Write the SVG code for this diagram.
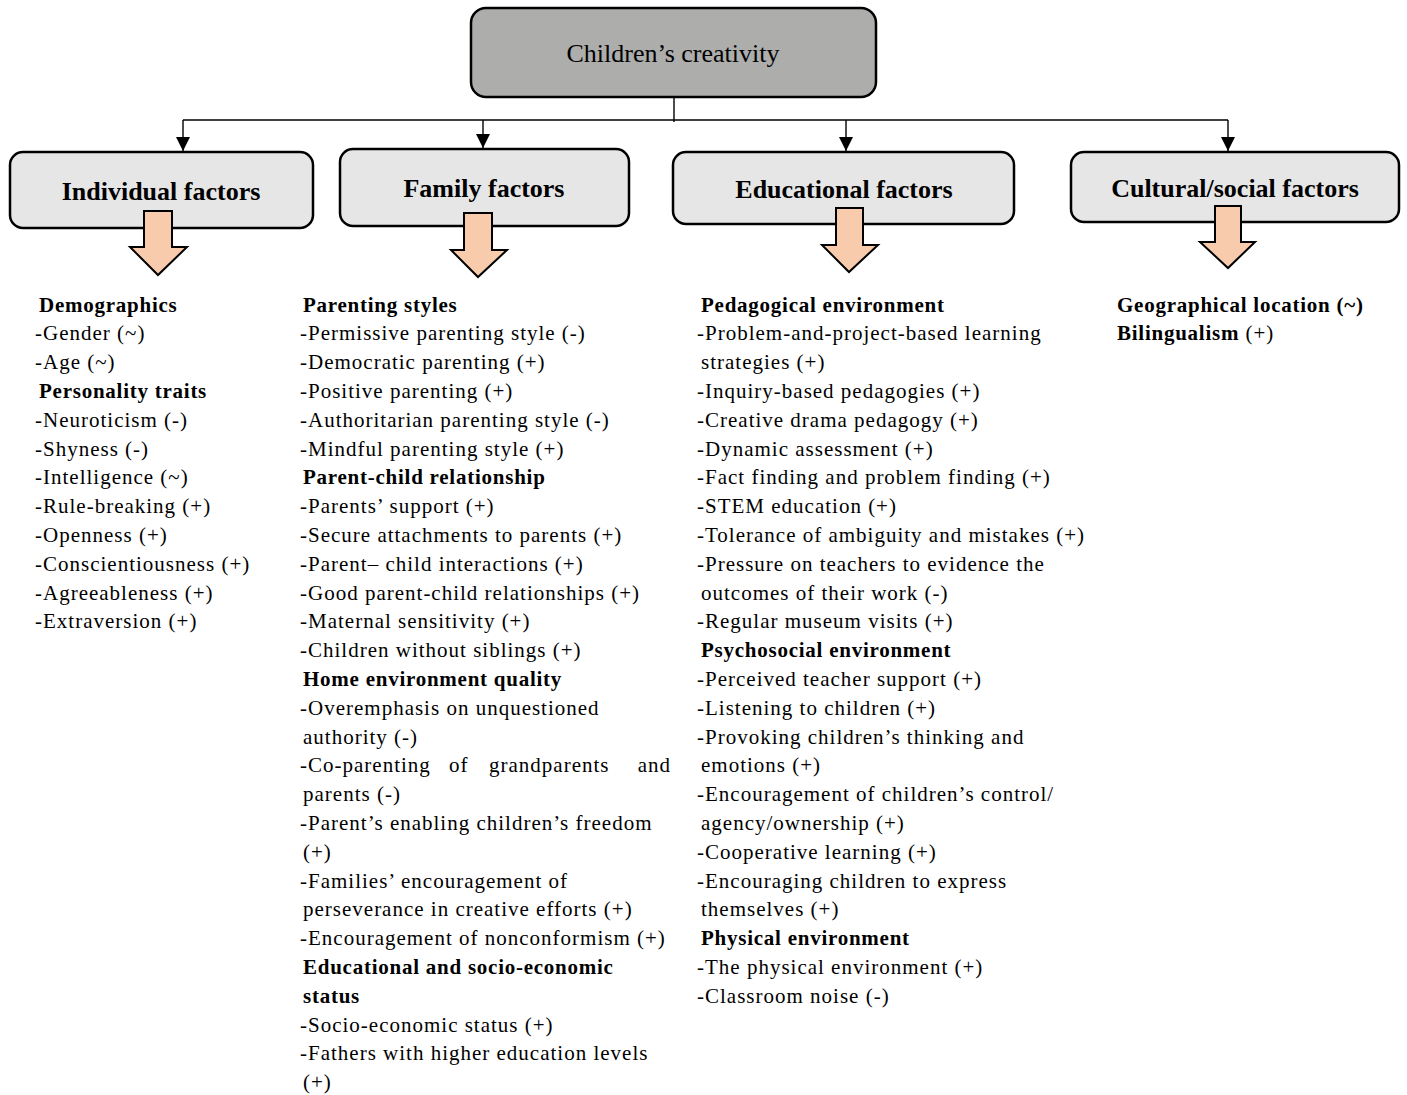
<svg xmlns="http://www.w3.org/2000/svg" width="1407" height="1095" viewBox="0 0 1407 1095">
<style>
.box{stroke:#000;stroke-width:2.5}
.top{fill:#adadab}
.cat{fill:#e6e6e6}
.ba{fill:#f8cbad;stroke:#000;stroke-width:2;stroke-linejoin:miter}
.conn{stroke:#000;stroke-width:1.4;fill:none}
.h1{font-family:"Liberation Serif","Times New Roman",serif;font-size:26px;fill:#000;text-anchor:middle}
.h2{font-family:"Liberation Serif","Times New Roman",serif;font-size:26px;font-weight:bold;fill:#000;text-anchor:middle}
.t{font-family:"Liberation Serif","Times New Roman",serif;font-size:21px;letter-spacing:1px;fill:#000}
.b{font-weight:bold;letter-spacing:0.75px}
</style>
<defs>
<marker id="ah" viewBox="0 0 10 10" refX="10" refY="5" markerWidth="14" markerHeight="14" markerUnits="userSpaceOnUse" orient="auto">
<path d="M0,0 L10,5 L0,10 Z" fill="#000"/>
</marker>
</defs>

<g id="connectors">
<line class="conn" x1="674" y1="93" x2="674" y2="122"/>
<line class="conn" x1="183" y1="120" x2="1228" y2="120"/>
<line class="conn" x1="183" y1="120" x2="183" y2="151" marker-end="url(#ah)"/>
<line class="conn" x1="483" y1="120" x2="483" y2="148" marker-end="url(#ah)"/>
<line class="conn" x1="846" y1="120" x2="846" y2="151" marker-end="url(#ah)"/>
<line class="conn" x1="1228" y1="120" x2="1228" y2="151" marker-end="url(#ah)"/>
</g>

<g id="root">
<rect class="box top" x="471" y="8" width="405" height="89" rx="15"/>
<text class="h1" x="673" y="62">Children’s creativity</text>
</g>

<g id="individual">
<rect class="box cat" x="10" y="152" width="303" height="76" rx="13"/>
<text class="h2" x="161" y="200">Individual factors</text>
<path class="ba" d="M144,211 H172 V247 H187 L158,275 L130,247 H144 Z"/>
<g class="t">
<text class="b" x="39" y="311.5">Demographics</text>
<text x="35" y="340.3">-Gender (~)</text>
<text x="35" y="369.1">-Age (~)</text>
<text class="b" x="39" y="397.9">Personality traits</text>
<text x="35" y="426.7">-Neuroticism (-)</text>
<text x="35" y="455.5">-Shyness (-)</text>
<text x="35" y="484.3">-Intelligence (~)</text>
<text x="35" y="513.1">-Rule-breaking (+)</text>
<text x="35" y="541.9">-Openness (+)</text>
<text x="35" y="570.7">-Conscientiousness (+)</text>
<text x="35" y="599.5">-Agreeableness (+)</text>
<text x="35" y="628.3">-Extraversion (+)</text>
</g>
</g>

<g id="family">
<rect class="box cat" x="340" y="149" width="289" height="77" rx="13"/>
<text class="h2" x="484" y="197">Family factors</text>
<path class="ba" d="M464,213 H492 V250 H507 L478,277 L451,250 H464 Z"/>
<g class="t">
<text class="b" x="303" y="311.5">Parenting styles</text>
<text x="300" y="340.3">-Permissive parenting style (-)</text>
<text x="300" y="369.1">-Democratic parenting (+)</text>
<text x="300" y="397.9">-Positive parenting (+)</text>
<text x="300" y="426.7">-Authoritarian parenting style (-)</text>
<text x="300" y="455.5">-Mindful parenting style (+)</text>
<text class="b" x="303" y="484.3">Parent-child relationship</text>
<text x="300" y="513.1">-Parents’ support (+)</text>
<text x="300" y="541.9">-Secure attachments to parents (+)</text>
<text x="300" y="570.7">-Parent– child interactions (+)</text>
<text x="300" y="599.5">-Good parent-child relationships (+)</text>
<text x="300" y="628.3">-Maternal sensitivity (+)</text>
<text x="300" y="657.1">-Children without siblings (+)</text>
<text class="b" x="303" y="685.9">Home environment quality</text>
<text x="300" y="714.7">-Overemphasis on unquestioned</text>
<text x="303" y="743.5">authority (-)</text>
<text x="300" y="772.3">-Co-parenting</text>
<text x="449" y="772.3">of</text>
<text x="489" y="772.3">grandparents</text>
<text x="671" y="772.3" text-anchor="end">and</text>
<text x="303" y="801.1">parents (-)</text>
<text x="300" y="829.9">-Parent’s enabling children’s freedom</text>
<text x="303" y="858.7">(+)</text>
<text x="300" y="887.5">-Families’ encouragement of</text>
<text x="303" y="916.3">perseverance in creative efforts (+)</text>
<text x="300" y="945.1">-Encouragement of nonconformism (+)</text>
<text class="b" x="303" y="973.9">Educational and socio-economic</text>
<text class="b" x="303" y="1002.7">status</text>
<text x="300" y="1031.5">-Socio-economic status (+)</text>
<text x="300" y="1060.3">-Fathers with higher education levels</text>
<text x="303" y="1089.1">(+)</text>
</g>
</g>

<g id="educational">
<rect class="box cat" x="673" y="152" width="341" height="72" rx="13"/>
<text class="h2" x="844" y="198">Educational factors</text>
<path class="ba" d="M836,208 H863 V245 H878 L849,272 L822,245 H836 Z"/>
<g class="t">
<text class="b" x="701" y="311.5">Pedagogical environment</text>
<text x="697" y="340.3">-Problem-and-project-based learning</text>
<text x="701" y="369.1">strategies (+)</text>
<text x="697" y="397.9">-Inquiry-based pedagogies (+)</text>
<text x="697" y="426.7">-Creative drama pedagogy (+)</text>
<text x="697" y="455.5">-Dynamic assessment (+)</text>
<text x="697" y="484.3">-Fact finding and problem finding (+)</text>
<text x="697" y="513.1">-STEM education (+)</text>
<text x="697" y="541.9">-Tolerance of ambiguity and mistakes (+)</text>
<text x="697" y="570.7">-Pressure on teachers to evidence the</text>
<text x="701" y="599.5">outcomes of their work (-)</text>
<text x="697" y="628.3">-Regular museum visits (+)</text>
<text class="b" x="701" y="657.1">Psychosocial environment</text>
<text x="697" y="685.9">-Perceived teacher support (+)</text>
<text x="697" y="714.7">-Listening to children (+)</text>
<text x="697" y="743.5">-Provoking children’s thinking and</text>
<text x="701" y="772.3">emotions (+)</text>
<text x="697" y="801.1">-Encouragement of children’s control/</text>
<text x="701" y="829.9">agency/ownership (+)</text>
<text x="697" y="858.7">-Cooperative learning (+)</text>
<text x="697" y="887.5">-Encouraging children to express</text>
<text x="701" y="916.3">themselves (+)</text>
<text class="b" x="701" y="945.1">Physical environment</text>
<text x="697" y="973.9">-The physical environment (+)</text>
<text x="697" y="1002.7">-Classroom noise (-)</text>
</g>
</g>

<g id="cultural">
<rect class="box cat" x="1071" y="152" width="328" height="70" rx="13"/>
<text class="h2" x="1235" y="197">Cultural/social factors</text>
<path class="ba" d="M1215,206 H1241 V242 H1255 L1228,268 L1200,242 H1215 Z"/>
<g class="t">
<text class="b" x="1117" y="311.5">Geographical location (~)</text>
<text x="1117" y="340.3"><tspan class="b">Bilingualism</tspan> (+)</text>
</g>
</g>
</svg>
